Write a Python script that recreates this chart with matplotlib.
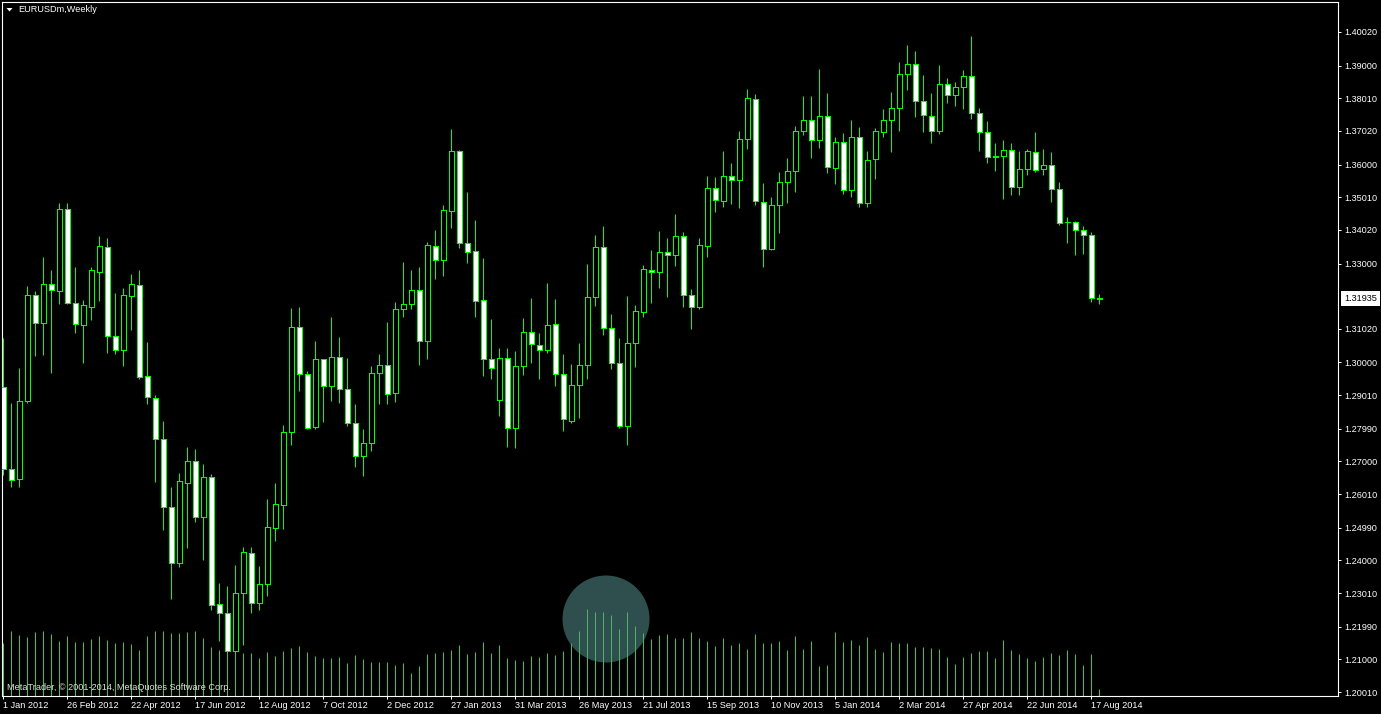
import matplotlib
matplotlib.use('Agg')
import matplotlib.pyplot as plt
from matplotlib.patches import Ellipse, Polygon
import numpy as np

# ---------------- data (weekly EURUSDm) ----------------
opens = [1.2925, 1.2676, 1.2646, 1.2884, 1.3204, 1.3121, 1.3237, 1.3216, 1.3464, 1.3181,
         1.3115, 1.3169, 1.3275, 1.3349, 1.3079, 1.3039, 1.3203, 1.3234, 1.2958, 1.2891,
         1.2767, 1.2561, 1.2393, 1.2636, 1.2700, 1.2533, 1.2652, 1.2267, 1.2242, 1.2125,
         1.2301, 1.2422, 1.2270, 1.2328, 1.2498, 1.2569, 1.2790, 1.3109, 1.2964, 1.2804,
         1.3010, 1.2930, 1.3018, 1.2919, 1.2818, 1.2716, 1.2755, 1.2967, 1.2991, 1.2906,
         1.3161, 1.3176, 1.3221, 1.3065, 1.3352, 1.3312, 1.3458, 1.3640, 1.3361, 1.3337,
         1.3188, 1.3012, 1.2885, 1.3015, 1.2801, 1.2988, 1.3091, 1.3052, 1.3037, 1.3116,
         1.2964, 1.2824, 1.2931, 1.2992, 1.3198, 1.3349, 1.3104, 1.2999, 1.2808, 1.3058,
         1.3152, 1.3280, 1.3273, 1.3334, 1.3325, 1.3383, 1.3204, 1.3167, 1.3352, 1.3528,
         1.3489, 1.3565, 1.3552, 1.3677, 1.3798, 1.3486, 1.3343, 1.3477, 1.3546, 1.3580,
         1.3701, 1.3734, 1.3674, 1.3746, 1.3589, 1.3668, 1.3522, 1.3683, 1.3483, 1.3616,
         1.3698, 1.3734, 1.3771, 1.3874, 1.3904, 1.3792, 1.3746, 1.3701, 1.3843, 1.3810,
         1.3834, 1.3868, 1.3756, 1.3698, 1.3622, 1.3625, 1.3643, 1.3531, 1.3586, 1.3637,
         1.3586, 1.3598, 1.3525, 1.3425, 1.3425, 1.3401, 1.3386, 1.3195]
highs = [1.3074, 1.2876, 1.2982, 1.3232, 1.3216, 1.3319, 1.3280, 1.3483, 1.3483, 1.3289,
         1.3190, 1.3289, 1.3384, 1.3377, 1.3211, 1.3226, 1.3268, 1.3280, 1.3061, 1.2901,
         1.2823, 1.2623, 1.2664, 1.2743, 1.2739, 1.2691, 1.2663, 1.2332, 1.2321, 1.2387,
         1.2442, 1.2442, 1.2383, 1.2587, 1.2634, 1.2812, 1.3164, 1.3167, 1.2974, 1.3066,
         1.3012, 1.3137, 1.3077, 1.3015, 1.2873, 1.2798, 1.2988, 1.3025, 1.3122, 1.3183,
         1.3305, 1.3280, 1.3289, 1.3365, 1.3402, 1.3477, 1.3708, 1.3644, 1.3517, 1.3431,
         1.3316, 1.3131, 1.3043, 1.3043, 1.3036, 1.3135, 1.3197, 1.3089, 1.3240, 1.3193,
         1.3026, 1.2995, 1.3059, 1.3299, 1.3387, 1.3414, 1.3147, 1.3074, 1.3202, 1.3174,
         1.3296, 1.3341, 1.3399, 1.3377, 1.3450, 1.3396, 1.3223, 1.3377, 1.3565, 1.3562,
         1.3641, 1.3605, 1.3702, 1.3828, 1.3813, 1.3543, 1.3501, 1.3577, 1.3619, 1.3716,
         1.3808, 1.3808, 1.3889, 1.3816, 1.3683, 1.3695, 1.3735, 1.3713, 1.3641, 1.3710,
         1.3768, 1.3819, 1.3910, 1.3963, 1.3944, 1.3871, 1.3816, 1.3902, 1.3863, 1.3850,
         1.3886, 1.3990, 1.3771, 1.3731, 1.3665, 1.3674, 1.3665, 1.3640, 1.3646, 1.3698,
         1.3646, 1.3637, 1.3546, 1.3440, 1.3428, 1.3413, 1.3395, 1.3207]
lows = [1.2659, 1.2622, 1.2622, 1.2878, 1.3020, 1.3024, 1.2969, 1.3177, 1.3177, 1.3090,
        1.2999, 1.3129, 1.3187, 1.3030, 1.3026, 1.2989, 1.3099, 1.2950, 1.2874, 1.2638,
        1.2492, 1.2283, 1.2381, 1.2439, 1.2517, 1.2401, 1.2249, 1.2155, 1.2122, 1.2122,
        1.2144, 1.2242, 1.2249, 1.2291, 1.2459, 1.2495, 1.2750, 1.2915, 1.2798, 1.2798,
        1.2819, 1.2884, 1.2877, 1.2808, 1.2684, 1.2656, 1.2733, 1.2875, 1.2873, 1.2880,
        1.3139, 1.3161, 1.2993, 1.3012, 1.3252, 1.3261, 1.3409, 1.3348, 1.3302, 1.3139,
        1.2959, 1.2951, 1.2839, 1.2744, 1.2742, 1.2963, 1.2998, 1.2950, 1.3029, 1.2930,
        1.2793, 1.2816, 1.2833, 1.2951, 1.3172, 1.3083, 1.2981, 1.2802, 1.2750, 1.2987,
        1.3139, 1.3181, 1.3227, 1.3200, 1.3294, 1.3169, 1.3101, 1.3163, 1.3321, 1.3457,
        1.3472, 1.3481, 1.3467, 1.3646, 1.3477, 1.3290, 1.3340, 1.3394, 1.3485, 1.3518,
        1.3691, 1.3621, 1.3651, 1.3575, 1.3542, 1.3512, 1.3503, 1.3472, 1.3472, 1.3557,
        1.3683, 1.3639, 1.3703, 1.3827, 1.3745, 1.3700, 1.3666, 1.3692, 1.3786, 1.3779,
        1.3769, 1.3739, 1.3642, 1.3606, 1.3582, 1.3497, 1.3509, 1.3509, 1.3569, 1.3578,
        1.3569, 1.3488, 1.3418, 1.3363, 1.3327, 1.3330, 1.3183, 1.3178]
closes = [1.2676, 1.2644, 1.2882, 1.3204, 1.3121, 1.3237, 1.3219, 1.3464, 1.3181, 1.3118,
          1.3173, 1.3280, 1.3352, 1.3081, 1.3039, 1.3204, 1.3237, 1.2957, 1.2895, 1.2767,
          1.2561, 1.2393, 1.2640, 1.2700, 1.2533, 1.2652, 1.2266, 1.2242, 1.2125, 1.2301,
          1.2426, 1.2270, 1.2328, 1.2502, 1.2570, 1.2790, 1.3109, 1.2964, 1.2801, 1.3012,
          1.2930, 1.3018, 1.2919, 1.2818, 1.2716, 1.2756, 1.2967, 1.2991, 1.2903, 1.3161,
          1.3176, 1.3221, 1.3065, 1.3355, 1.3312, 1.3461, 1.3640, 1.3361, 1.3334, 1.3185,
          1.3012, 1.2983, 1.3015, 1.2801, 1.2988, 1.3091, 1.3055, 1.3037, 1.3115, 1.2964,
          1.2828, 1.2931, 1.2992, 1.3198, 1.3349, 1.3104, 1.2999, 1.2808, 1.3058, 1.3155,
          1.3283, 1.3273, 1.3334, 1.3325, 1.3383, 1.3204, 1.3167, 1.3355, 1.3528, 1.3492,
          1.3565, 1.3552, 1.3677, 1.3801, 1.3489, 1.3343, 1.3477, 1.3546, 1.3580, 1.3701,
          1.3734, 1.3674, 1.3746, 1.3592, 1.3668, 1.3522, 1.3683, 1.3483, 1.3613, 1.3701,
          1.3734, 1.3771, 1.3874, 1.3904, 1.3792, 1.3749, 1.3701, 1.3843, 1.3810, 1.3834,
          1.3868, 1.3756, 1.3698, 1.3622, 1.3625, 1.3643, 1.3531, 1.3586, 1.3640, 1.3583,
          1.3598, 1.3525, 1.3424, 1.3425, 1.3401, 1.3386, 1.3195, 1.31935]
# tick volumes (arbitrary units, relative bar heights)
volumes = [53, 65, 61, 59, 64, 65, 62, 55, 60, 54, 54, 57, 60, 56, 53, 54, 52, 46, 60, 65,
           65, 63, 63, 64, 65, 58, 49, 46, 57, 60, 43, 43, 38, 44, 40, 45, 48, 50, 44, 40,
           38, 38, 39, 33, 41, 37, 34, 34, 34, 31, 33, 23, 30, 42, 43, 44, 46, 51, 42, 44,
           54, 43, 51, 38, 36, 35, 40, 39, 43, 41, 45, 53, 65, 87, 84, 84, 81, 67, 84, 70,
           63, 57, 61, 62, 58, 58, 64, 58, 55, 50, 58, 51, 53, 47, 62, 53, 53, 55, 46, 60,
           47, 55, 30, 31, 64, 54, 56, 51, 59, 47, 44, 54, 53, 53, 49, 49, 48, 47, 39, 32,
           39, 43, 45, 45, 38, 56, 46, 42, 38, 35, 39, 43, 41, 46, 42, 31, 42, 7]
date_labels = ['1 Jan 2012', '26 Feb 2012', '22 Apr 2012', '17 Jun 2012', '12 Aug 2012',
               '7 Oct 2012', '2 Dec 2012', '27 Jan 2013', '31 Mar 2013', '26 May 2013',
               '21 Jul 2013', '15 Sep 2013', '10 Nov 2013', '5 Jan 2014', '2 Mar 2014',
               '27 Apr 2014', '22 Jun 2014', '17 Aug 2014']
price_ticks = [1.40020, 1.39000, 1.38010, 1.37020, 1.36000, 1.35010, 1.34020, 1.33000,
               1.31020, 1.30000, 1.29010, 1.27990, 1.27000, 1.26010, 1.24990, 1.24000,
               1.23010, 1.21990, 1.21000, 1.20010]
last_price = 1.31935
symbol_title = 'EURUSDm,Weekly'
copyright_text = 'MetaTrader, \u00a9 2001-2014, MetaQuotes Software Corp.'

# ---------------- figure / layout ----------------
W, H = 1381, 714
FONT = ['Liberation Sans', 'DejaVu Sans']
plt.rcParams['font.family'] = FONT
fig = plt.figure(figsize=(W / 100, H / 100), dpi=100, facecolor='black')

l_px, r_px, t_px, b_px = 2.3, 1338.0, 2.3, 696.0
pos = [l_px / W, 1 - b_px / H, (r_px - l_px) / W, (b_px - t_px) / H]

ax_v = fig.add_axes(pos, zorder=1)
ax = fig.add_axes(pos, zorder=2)
ax.patch.set_alpha(0)
ax_v.set_facecolor('black')

n = len(opens)
x = np.arange(n)
o = np.array(opens); c = np.array(closes)
hi = np.array(highs); lo = np.array(lows)

GREEN = '#00ff00'
VGREEN = '#32cd32'
PX = 0.72  # one pixel in points

# volume histogram
ax_v.vlines(x, 0, volumes, color=VGREEN, lw=PX, antialiased=True, snap=True)
ax_v.set_xlim(-0.125, 166.84)
ax_v.set_ylim(0, 693.7)
ax_v.axis('off')

# candles
ax.vlines(x, lo, hi, color=GREEN, lw=PX, antialiased=True, snap=True, zorder=2)
up = c >= o
faces = ['black' if u else 'white' for u in up]
ax.bar(x, np.abs(c - o), bottom=np.minimum(o, c), width=0.62, color=faces,
       edgecolor=GREEN, linewidth=0.5, antialiased=False, zorder=3)

ax.set_xlim(-0.125, 166.84)
ax.set_ylim(1.19889, 1.40920)

for s in ax.spines.values():
    s.set_color('white')
    s.set_linewidth(0.8)

ax.yaxis.tick_right()
ax.set_yticks(price_ticks)
ax.set_yticklabels(['%.5f' % v for v in price_ticks])
ax.tick_params(axis='y', colors='white', length=2.2, width=PX, pad=2.4,
               labelsize=6.6, direction='out')
ax.set_xticks(np.arange(0, n, 8)[:len(date_labels)])
ax.set_xticklabels(date_labels, ha='left')
ax.tick_params(axis='x', colors='white', length=2.2, width=PX, pad=1.2,
               labelsize=6.6, direction='out')

# last price marker
ax.annotate('%.5f' % last_price, xy=(1, last_price), xycoords=('axes fraction', 'data'),
            xytext=(6, 0), textcoords='offset pixels', ha='left', va='center',
            fontsize=6.6, color='black',
            bbox=dict(boxstyle='square,pad=0.3', fc='white', ec='none'))

# header and copyright
fig.patches.append(Polygon([(6.5 / W, 1 - 8 / H), (12.5 / W, 1 - 8 / H), (9.5 / W, 1 - 11.5 / H)],
                           closed=True, transform=fig.transFigure, fc='white', ec='none'))
fig.text(18 / W, 1 - 10 / H, symbol_title, color='white', fontsize=6.6,
         ha='left', va='center')
fig.text(7 / W, 1 - 688 / H, copyright_text, color='#e0e0e0', fontsize=6.6,
         ha='left', va='center', zorder=5)

# translucent click-highlight circle
fig.patches.append(Ellipse((606 / W, 1 - 619 / H), 87 / W, 87 / H, transform=fig.transFigure,
                           fc='#5f9f9f', ec='none', alpha=0.5, zorder=10))

fig.savefig('out.png', dpi=100, facecolor='black')
